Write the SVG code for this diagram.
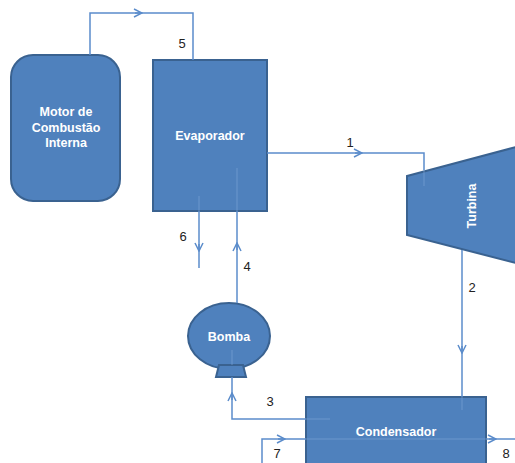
<svg xmlns="http://www.w3.org/2000/svg" width="515" height="463" viewBox="0 0 515 463">
<defs>
<style>
.shape{fill:#4F81BD;stroke:#3A6290;stroke-width:2}
.lbl{fill:#fff;font-family:"Liberation Sans",Arial,sans-serif;font-size:12.5px;font-weight:bold;text-anchor:middle}
.num{fill:#222;font-family:"Liberation Sans",Arial,sans-serif;font-size:13px;text-anchor:middle}
.ln{fill:none;stroke:#5B8CCB;stroke-width:1.5}
.inner{fill:none;stroke:#7FA6D8;stroke-width:1;opacity:0.6}
</style>
<marker id="chev" viewBox="0 0 10 10" refX="9" refY="5" markerWidth="10" markerHeight="10" markerUnits="userSpaceOnUse" orient="auto">
<path d="M1,1 L9,5 L1,9" fill="none" stroke="#5B8CCB" stroke-width="1.5"/>
</marker>
</defs>
<rect width="515" height="463" fill="#fff"/>
<g id="motor">
<rect class="shape" x="11" y="55" width="109" height="146" rx="22" ry="22"/>
<text class="lbl" x="66" y="116">Motor de</text>
<text class="lbl" x="66" y="132">Combustão</text>
<text class="lbl" x="66" y="147">Interna</text>
</g>
<g id="evaporador">
<rect class="shape" x="153" y="60" width="114" height="151"/>
<text class="lbl" x="210" y="140">Evaporador</text>
</g>
<g id="turbina">
<polygon class="shape" points="407,176 516,147 516,263 407,235"/>
<text class="lbl" transform="translate(476,206) rotate(-90)">Turbina</text>
</g>
<g id="bomba">
<ellipse class="shape" cx="229" cy="336" rx="41" ry="33"/>
<polygon class="shape" points="219,365 243,365 246,377 216,377"/>
<text class="lbl" x="229" y="341">Bomba</text>
</g>
<g id="condensador">
<rect class="shape" x="306" y="397" width="180" height="70"/>
<text class="lbl" x="396" y="436">Condensador</text>
</g>
<g id="connectors">
<polyline class="ln" points="90,55 90,13 193,13 193,60"/>
<path class="ln" d="M135,13 L142,13" marker-end="url(#chev)"/>
<polyline class="ln" points="267,153 424,153 424,170"/>
<line class="inner" x1="424" y1="170" x2="424" y2="186"/>
<path class="ln" d="M355,153 L362,153" marker-end="url(#chev)"/>
<line class="ln" x1="462" y1="250" x2="462" y2="397"/>
<line class="inner" x1="462" y1="397" x2="462" y2="410"/>
<path class="ln" d="M462,346 L462,353" marker-end="url(#chev)"/>
<polyline class="ln" points="306,419 232,419 232,377"/>
<line class="inner" x1="306" y1="419" x2="330" y2="419"/>
<line class="inner" x1="232" y1="350" x2="232" y2="365"/>
<path class="ln" d="M232,400 L232,393" marker-end="url(#chev)"/>
<polyline class="ln" points="237,303 237,211"/>
<line class="inner" x1="237" y1="211" x2="237" y2="168"/>
<path class="ln" d="M237,250 L237,243" marker-end="url(#chev)"/>
<line class="ln" x1="199" y1="211" x2="199" y2="268"/>
<line class="inner" x1="199" y1="196" x2="199" y2="211"/>
<path class="ln" d="M199,244 L199,251" marker-end="url(#chev)"/>
<polyline class="ln" points="262,463 262,439 306,439"/>
<path class="ln" d="M278,439 L285,439" marker-end="url(#chev)"/>
<line class="ln" x1="486" y1="439" x2="515" y2="439"/>
<line class="inner" x1="306" y1="439" x2="486" y2="439"/>
<path class="ln" d="M489,439 L496,439" marker-end="url(#chev)"/>
</g>
<g id="labels">
<text class="num" x="182" y="48">5</text>
<text class="num" x="350" y="147">1</text>
<text class="num" x="472" y="292">2</text>
<text class="num" x="270" y="406">3</text>
<text class="num" x="247" y="271">4</text>
<text class="num" x="183" y="241">6</text>
<text class="num" x="277" y="458">7</text>
<text class="num" x="506" y="458">8</text>
</g>
</svg>
